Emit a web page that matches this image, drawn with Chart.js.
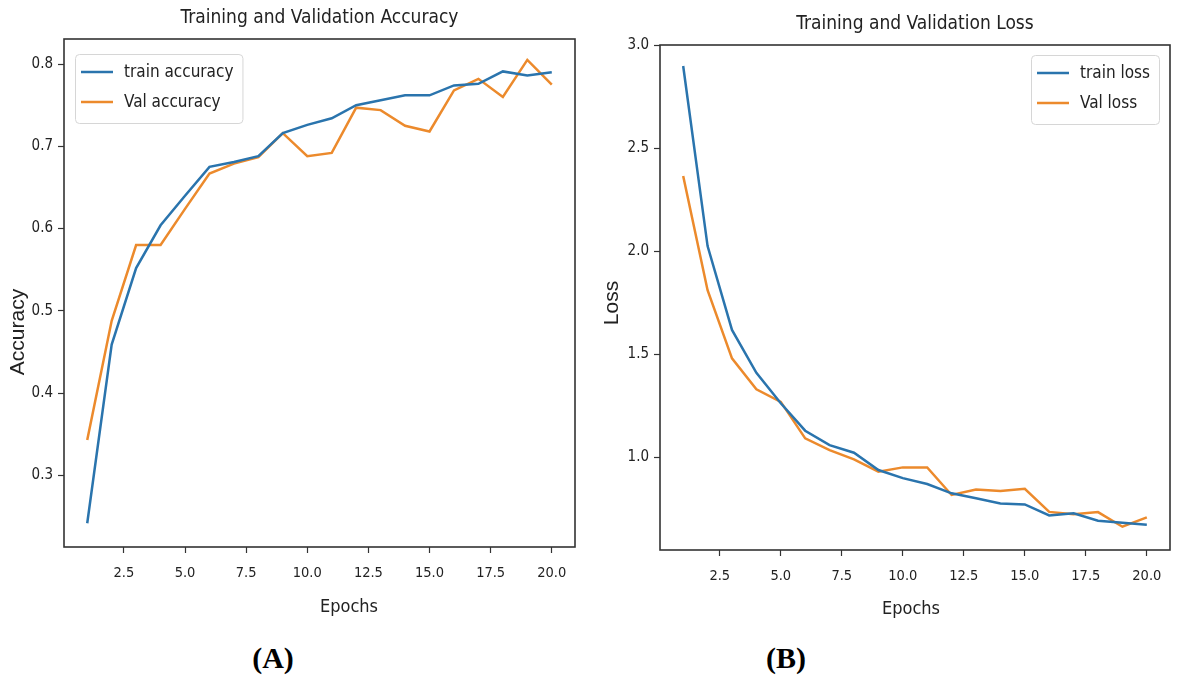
<!DOCTYPE html>
<html>
<head>
<meta charset="utf-8">
<script src="https://cdn.jsdelivr.net/npm/chart.js@4.4.1/dist/chart.umd.min.js"></script>
<style>
  html, body { margin: 0; padding: 0; background: #ffffff; }
  body { width: 1177px; height: 675px; position: relative; overflow: hidden; }
  canvas { position: absolute; top: 0; }
  #cA { left: 0; }
  #cB { left: 590px; }
  .panel { position: absolute; top: 641px; font-family: "Liberation Serif", "Times New Roman", serif; font-weight: bold; font-size: 30px; color: #000; transform: translateX(-50%); }
</style>
</head>
<body>
<canvas id="cA" width="590" height="640"></canvas>
<canvas id="cB" width="587" height="640"></canvas>
<div class="panel" style="left:273px">(A)</div>
<div class="panel" style="left:786px">(B)</div>
<script>
// ---- data ----
const epochs = [1,2,3,4,5,6,7,8,9,10,11,12,13,14,15,16,17,18,19,20];
const trainAccuracy = [0.242,0.459,0.552,0.604,0.640,0.675,0.681,0.688,0.716,0.726,0.734,0.750,0.756,0.762,0.762,0.774,0.776,0.791,0.786,0.790];
const valAccuracy   = [0.343,0.488,0.580,0.580,0.624,0.667,0.679,0.687,0.716,0.688,0.692,0.747,0.744,0.725,0.718,0.768,0.782,0.760,0.805,0.775];
const trainLoss = [2.898,2.024,1.617,1.409,1.261,1.128,1.058,1.021,0.937,0.898,0.869,0.824,0.800,0.775,0.770,0.717,0.727,0.691,0.681,0.671];
const valLoss   = [2.364,1.810,1.479,1.329,1.268,1.091,1.034,0.989,0.929,0.950,0.950,0.816,0.843,0.835,0.846,0.734,0.723,0.733,0.662,0.707];
const epochTicks = [2.5,5.0,7.5,10.0,12.5,15.0,17.5,20.0];
const accuracyTicks = [0.3,0.4,0.5,0.6,0.7,0.8];
const lossTicks = [1.0,1.5,2.0,2.5,3.0];

const BLUE = '#2a74ad';
const ORANGE = '#ec8a2c';
const NARROW = '"Liberation Sans Narrow", "DejaVu Sans Condensed", "Liberation Sans", sans-serif';
const SANS = '"Liberation Sans", "DejaVu Sans", sans-serif';

const pts = (ys) => epochs.map((e, i) => ({x: e, y: ys[i]}));

const framePlugin = {
  id: 'frame',
  afterDraw(chart) {
    const {ctx, chartArea: a} = chart;
    ctx.save();
    ctx.strokeStyle = '#333333';
    ctx.lineWidth = 1.6;
    ctx.strokeRect(a.left, a.top, a.right - a.left, a.bottom - a.top);
    ctx.restore();
  }
};

// axis labels, placed where the reference puts them
const axisLabelPlugin = {
  id: 'axisLabels',
  afterDraw(chart, args, opts) {
    const {ctx} = chart;
    ctx.save();
    ctx.fillStyle = '#222222';
    ctx.textAlign = 'center';
    ctx.textBaseline = 'middle';
    ctx.font = '18px ' + NARROW;
    ctx.fillText(opts.xText, opts.xx, opts.xy);
    ctx.translate(opts.yx, opts.yy);
    ctx.rotate(-Math.PI / 2);
    ctx.font = '21px ' + SANS;
    ctx.fillText(opts.yText, 0, 0);
    ctx.restore();
  }
};

const boxLegend = {
  id: 'boxLegend',
  afterDatasetsDraw(chart, args, opts) {
    const {ctx, chartArea: a} = chart;
    ctx.save();
    ctx.font = '17px ' + NARROW;
    const ds = chart.data.datasets;
    let tw = 0;
    ds.forEach(d => { tw = Math.max(tw, ctx.measureText(d.label).width); });
    const bw = 49 + tw + 9, bh = 69;
    const bx = opts.side === 'left' ? a.left + 11 : a.right - 11 - bw;
    const by = a.top + opts.dy;
    ctx.fillStyle = 'rgba(255,255,255,0.85)';
    ctx.strokeStyle = '#d6d6d6';
    ctx.lineWidth = 1;
    ctx.beginPath();
    ctx.roundRect(bx + 0.5, by + 0.5, bw, bh, 4);
    ctx.fill();
    ctx.stroke();
    ds.forEach((d, i) => {
      const y = by + 18 + i * 30;
      ctx.strokeStyle = d.borderColor;
      ctx.lineWidth = 2.5;
      ctx.beginPath();
      ctx.moveTo(bx + 6, y);
      ctx.lineTo(bx + 38, y);
      ctx.stroke();
      ctx.fillStyle = '#222222';
      ctx.textBaseline = 'middle';
      ctx.textAlign = 'left';
      ctx.fillText(d.label, bx + 49, y + 1);
    });
    ctx.restore();
  }
};

function makeChart(id, cfg) {
  const xScale = {
    type: 'linear', min: 0.05, max: 20.95,
    afterBuildTicks: s => { s.ticks = epochTicks.map(v => ({value: v})); },
    afterFit: s => { s.height = cfg.xHeight; },
    grid: { drawOnChartArea: false, drawTicks: true, tickLength: 6, tickColor: '#333', tickWidth: 1.2 },
    border: { display: false },
    ticks: { color: '#222', font: { family: NARROW, size: 14.5 }, padding: 12, maxRotation: 0, autoSkip: false,
             callback: v => Number(v).toFixed(1) },
    title: { display: false }
  };
  const yScale = {
    type: 'linear', min: cfg.yMin, max: cfg.yMax,
    afterBuildTicks: s => { s.ticks = cfg.yTicks.map(v => ({value: v})); },
    afterFit: s => { s.width = cfg.yWidth; },
    grid: { drawOnChartArea: false, drawTicks: true, tickLength: 6, tickColor: '#333', tickWidth: 1.2 },
    border: { display: false },
    ticks: { color: '#222', font: { family: NARROW, size: 15 }, padding: 5, autoSkip: false,
             callback: v => Number(v).toFixed(1) },
    title: { display: false }
  };
  return new Chart(document.getElementById(id), {
    type: 'line',
    data: {
      datasets: [
        { label: cfg.labels[0], data: pts(cfg.series[0]), borderColor: BLUE, backgroundColor: BLUE, borderWidth: 2.5, pointRadius: 0, tension: 0 },
        { label: cfg.labels[1], data: pts(cfg.series[1]), borderColor: ORANGE, backgroundColor: ORANGE, borderWidth: 2.5, pointRadius: 0, tension: 0 }
      ]
    },
    options: {
      responsive: false,
      animation: false,
      devicePixelRatio: 1,
      layout: { padding: { left: 0, right: cfg.padRight, top: 0, bottom: 0 } },
      scales: { x: xScale, y: yScale },
      plugins: {
        legend: { display: false },
        tooltip: { enabled: false },
        title: { display: true, text: cfg.title, fullSize: false, color: '#222',
                 font: { family: NARROW, size: 19, weight: 'normal' }, padding: { top: cfg.titleTop, bottom: cfg.titleBottom } },
        boxLegend: { side: cfg.legendSide, dy: cfg.legendDy },
        axisLabels: { xText: 'Epochs', xx: cfg.xLabelX, xy: cfg.xLabelY, yText: cfg.yLabel, yx: cfg.yLabelX, yy: cfg.yLabelY }
      }
    },
    plugins: [framePlugin, boxLegend, axisLabelPlugin]
  });
}

makeChart('cA', {
  title: 'Training and Validation Accuracy', yLabel: 'Accuracy',
  labels: ['train accuracy', 'Val accuracy'], series: [trainAccuracy, valAccuracy],
  yMin: 0.2131, yMax: 0.8304, yTicks: accuracyTicks,
  xHeight: 93, yWidth: 64, padRight: 15, titleTop: 6.3, titleBottom: 9.9,
  legendSide: 'left', legendDy: 15,
  xLabelX: 349, xLabelY: 607, yLabelX: 18, yLabelY: 332
});
makeChart('cB', {
  title: 'Training and Validation Loss', yLabel: 'Loss',
  labels: ['train loss', 'Val loss'], series: [trainLoss, valLoss],
  yMin: 0.549, yMax: 3.0, yTicks: lossTicks,
  xHeight: 90, yWidth: 70, padRight: 7, titleTop: 12.3, titleBottom: 9.9,
  legendSide: 'right', legendDy: 10,
  xLabelX: 321, xLabelY: 609, yLabelX: 22, yLabelY: 303
});
</script>
</body>
</html>
